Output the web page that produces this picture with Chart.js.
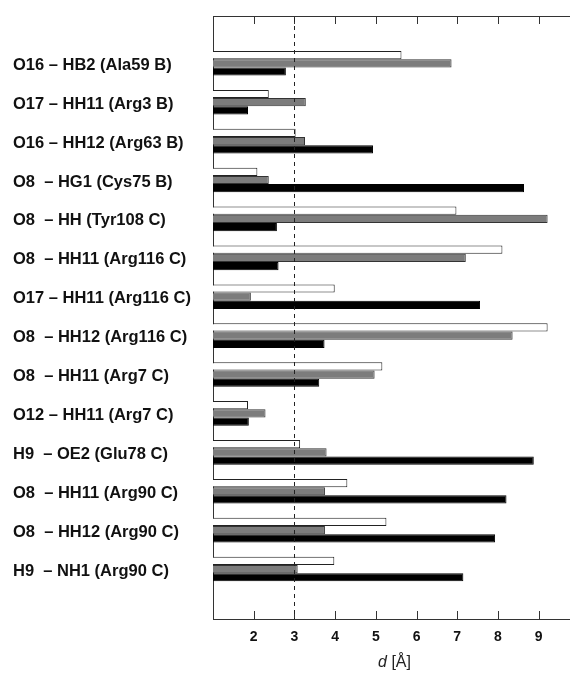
<!DOCTYPE html>
<html>
<head>
<meta charset="utf-8">
<script src="https://cdn.jsdelivr.net/npm/chart.js@4.4.1/dist/chart.umd.min.js"></script>
<style>
  html, body { margin: 0; padding: 0; background: #fff; }
  canvas { display: block; }
</style>
</head>
<body>
<canvas id="chart" width="570" height="673"></canvas>
<script>
// contact pairs, top to bottom
const categories = [
    'O16 – HB2 (Ala59 B)',
    'O17 – HH11 (Arg3 B)',
    'O16 – HH12 (Arg63 B)',
    'O8  – HG1 (Cys75 B)',
    'O8  – HH (Tyr108 C)',
    'O8  – HH11 (Arg116 C)',
    'O17 – HH11 (Arg116 C)',
    'O8  – HH12 (Arg116 C)',
    'O8  – HH11 (Arg7 C)',
    'O12 – HH11 (Arg7 C)',
    'H9  – OE2 (Glu78 C)',
    'O8  – HH11 (Arg90 C)',
    'O8  – HH12 (Arg90 C)',
    'H9  – NH1 (Arg90 C)'
];

// distances in angstrom (white, gray, black bars)
const whiteValues = [5.63, 2.37, 3.03, 2.09, 6.98, 8.11, 3.99, 9.22, 5.16, 1.86, 3.14, 4.30, 5.26, 3.98];
const grayValues  = [6.86, 3.28, 3.26, 2.37, 9.22, 7.21, 1.93, 8.36, 4.97, 2.29, 3.79, 3.75, 3.75, 3.08];
const blackValues = [2.79, 1.86, 4.93, 8.64, 2.57, 2.61, 7.56, 3.74, 3.61, 1.88, 8.88, 8.21, 7.93, 7.15];

const xTicks = [2, 3, 4, 5, 6, 7, 8, 9];
const cutoff = 3;

const fontFamily = '"Liberation Sans", Arial, Helvetica, sans-serif';

function toPoints(values) {
    return values.map((v, i) => ({ x: v, y: i }));
}

// inward tick marks, top frame line, dashed cutoff line and axis title
const framePlugin = {
    id: 'frame',
    afterDraw(chart) {
        const ctx = chart.ctx;
        const area = chart.chartArea;
        const xs = chart.scales.x;
        ctx.save();
        ctx.strokeStyle = '#333';
        ctx.lineWidth = 1;

        ctx.beginPath();
        ctx.moveTo(area.left, area.top + 0.5);
        ctx.lineTo(area.right, area.top + 0.5);
        xTicks.forEach(v => {
            const px = Math.round(xs.getPixelForValue(v)) + 0.5;
            ctx.moveTo(px, area.top);
            ctx.lineTo(px, area.top + 8);
            ctx.moveTo(px, area.bottom);
            ctx.lineTo(px, area.bottom - 8);
        });
        ctx.stroke();

        const cx = Math.round(xs.getPixelForValue(cutoff)) + 0.5;
        ctx.setLineDash([4, 4]);
        ctx.strokeStyle = '#222';
        ctx.beginPath();
        ctx.moveTo(cx, area.top + 2);
        ctx.lineTo(cx, area.bottom);
        ctx.stroke();
        ctx.setLineDash([]);

        // title: italic d, regular [Å]
        const mid = (area.left + area.right) / 2 + 3;
        const y = 667;
        ctx.fillStyle = '#222';
        ctx.textBaseline = 'alphabetic';
        ctx.font = 'italic 16px ' + fontFamily;
        const w1 = ctx.measureText('d').width;
        ctx.font = '16px ' + fontFamily;
        const w2 = ctx.measureText(' [Å]').width;
        const start = mid - (w1 + w2) / 2;
        ctx.font = 'italic 16px ' + fontFamily;
        ctx.textAlign = 'left';
        ctx.fillText('d', start, y);
        ctx.font = '16px ' + fontFamily;
        ctx.fillText(' [Å]', start + w1, y);
        ctx.restore();
    }
};

new Chart(document.getElementById('chart'), {
    type: 'bar',
    data: {
        datasets: [
            {
                label: 'white',
                data: toPoints(whiteValues),
                backgroundColor: '#ffffff',
                borderColor: '#222',
                borderWidth: 1
            },
            {
                label: 'gray',
                data: toPoints(grayValues),
                backgroundColor: '#7c7c7c',
                borderColor: '#333',
                borderWidth: 1
            },
            {
                label: 'black',
                data: toPoints(blackValues),
                backgroundColor: '#000000',
                borderColor: '#000000',
                borderWidth: 1
            }
        ]
    },
    options: {
        indexAxis: 'y',
        responsive: false,
        animation: false,
        devicePixelRatio: 1,
        layout: { padding: { left: 13, top: 16, right: 0, bottom: 0 } },
        datasets: {
            bar: { categoryPercentage: 0.633, barPercentage: 1.0 }
        },
        plugins: {
            legend: { display: false },
            tooltip: { enabled: false }
        },
        scales: {
            x: {
                type: 'linear',
                position: 'bottom',
                min: 1,
                max: 9.77,
                afterBuildTicks: s => { s.ticks = xTicks.map(v => ({ value: v })); },
                afterFit: s => { s.height = 54; },
                grid: { display: false, drawTicks: false },
                border: { display: true, color: '#333', width: 1 },
                ticks: {
                    padding: 10,
                    color: '#111',
                    font: { family: fontFamily, size: 14, weight: 'bold' }
                }
            },
            y: {
                type: 'linear',
                position: 'left',
                reverse: true,
                offset: false,
                min: -1.216,
                max: 14.284,
                afterBuildTicks: s => { s.ticks = categories.map((c, i) => ({ value: i })); },
                afterFit: s => { s.width = 200; },
                grid: { display: false, drawTicks: false, offset: false },
                border: { display: true, color: '#333', width: 1 },
                ticks: {
                    crossAlign: 'far',
                    labelOffset: 2,
                    autoSkip: false,
                    color: '#111',
                    font: { family: fontFamily, size: 16.5, weight: 'bold' },
                    callback: (value, index) => categories[index]
                }
            }
        }
    },
    plugins: [framePlugin]
});
</script>
</body>
</html>
